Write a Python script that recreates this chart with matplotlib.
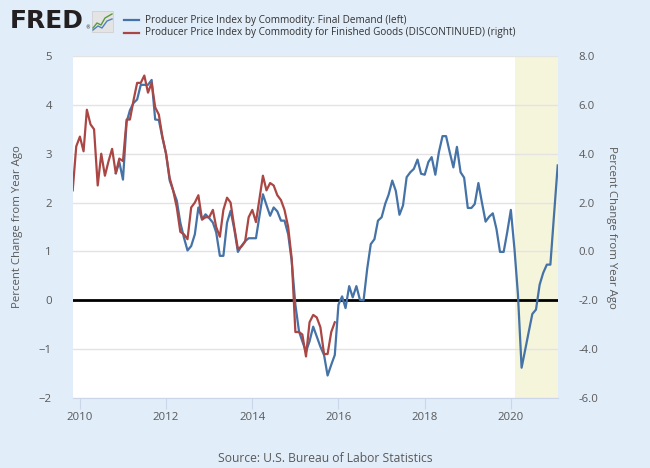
import matplotlib
matplotlib.use('Agg')
import matplotlib.pyplot as plt
import matplotlib.dates as mdates
from matplotlib import font_manager
from matplotlib.lines import Line2D
from matplotlib.patches import Rectangle
from matplotlib.ticker import FormatStrFormatter
import pandas as pd

# ---------------- data ----------------
final_demand_start = '2010-11-01'
final_demand = [
    2.60, 2.83,                                                       # 2010 Nov-Dec
    2.47, 3.65, 3.89, 4.04, 4.11, 4.41, 4.41, 4.41, 4.51, 3.70, 3.69, 3.33,   # 2011
    3.00, 2.45, 2.25, 2.04, 1.59, 1.28, 1.02, 1.11, 1.35, 1.90, 1.66, 1.76,   # 2012
    1.68, 1.59, 1.39, 0.91, 0.91, 1.59, 1.83, 1.46, 0.99, 1.11, 1.21, 1.27,   # 2013
    1.27, 1.27, 1.70, 2.17, 1.95, 1.73, 1.90, 1.82, 1.63, 1.63, 1.35, 0.80,   # 2014
    -0.09, -0.64, -0.84, -1.05, -0.84, -0.54, -0.74, -0.95, -1.12, -1.54, -1.32, -1.12,  # 2015
    -0.09, 0.08, -0.16, 0.29, 0.06, 0.29, 0.01, 0.00, 0.65, 1.15, 1.25, 1.63,  # 2016
    1.70, 1.98, 2.16, 2.45, 2.24, 1.75, 1.94, 2.52, 2.62, 2.69, 2.88, 2.59,   # 2017
    2.57, 2.83, 2.93, 2.57, 3.03, 3.36, 3.36, 3.03, 2.72, 3.14, 2.62, 2.51,   # 2018
    1.89, 1.89, 1.97, 2.40, 2.00, 1.61, 1.71, 1.78, 1.46, 0.99, 0.99, 1.39,   # 2019
    1.85, 1.04, 0.12, -1.38, -1.02, -0.64, -0.28, -0.19, 0.32, 0.56, 0.73, 0.73,  # 2020
    1.75, 2.76,                                                       # 2021 Jan-Feb
]

finished_goods_start = '2009-11-01'
finished_goods = [
    2.5, 4.3,                                                         # 2009 Nov-Dec
    4.7, 4.1, 5.8, 5.2, 5.0, 2.7, 4.0, 3.1, 3.7, 4.2, 3.2, 3.8,       # 2010
    3.7, 5.4, 5.4, 6.2, 6.9, 6.9, 7.2, 6.5, 6.9, 5.9, 5.6, 4.7,       # 2011
    4.0, 3.0, 2.5, 1.8, 0.8, 0.7, 0.5, 1.8, 2.0, 2.3, 1.3, 1.4,       # 2012
    1.4, 1.7, 1.0, 0.6, 1.7, 2.2, 2.0, 1.0, 0.1, 0.2, 0.4, 1.4,       # 2013
    1.7, 1.2, 2.1, 3.1, 2.5, 2.8, 2.7, 2.3, 2.1, 1.7, 1.0, -0.3,      # 2014
    -3.3, -3.3, -3.4, -4.3, -2.9, -2.6, -2.7, -3.1, -4.2, -4.2, -3.3, -2.9,  # 2015
]

recession_start = '2020-02-01'
x_start, x_end = '2009-11-01', '2021-02-01'
left_ticks = [-2, -1, 0, 1, 2, 3, 4, 5]
right_ticks = [-6, -4, -2, 0, 2, 4, 6, 8]

label_fd = 'Producer Price Index by Commodity: Final Demand (left)'
label_fg = 'Producer Price Index by Commodity for Finished Goods (DISCONTINUED) (right)'
y_title = 'Percent Change from Year Ago'
source = 'Source: U.S. Bureau of Labor Statistics'

# ---------------- fonts ----------------
def avail(name):
    try:
        font_manager.findfont(font_manager.FontProperties(family=name),
                              fallback_to_default=False)
        return True
    except Exception:
        return False


MAIN = 'Open Sans' if avail('Open Sans') else 'DejaVu Sans'
plt.rcParams['font.family'] = [MAIN, 'DejaVu Sans']

# ---------------- figure ----------------
W, H = 650, 468
BG = '#e1edf9'
TXT = '#595959'
BLUE = '#4572a7'
RED = '#aa4643'

fig = plt.figure(figsize=(W / 100, H / 100), dpi=100)
fig.patch.set_facecolor(BG)

L, R, T, B = 72.7, 557.7, 56, 398
ax = fig.add_axes([L / W, 1 - B / H, (R - L) / W, (B - T) / H])
ax.set_facecolor('white')

fd_dates = pd.date_range(final_demand_start, periods=len(final_demand), freq='MS')
fg_dates = pd.date_range(finished_goods_start, periods=len(finished_goods), freq='MS')

ax.set_xlim(pd.Timestamp(x_start), pd.Timestamp(x_end))
ax.set_ylim(left_ticks[0], left_ticks[-1])
ax.set_yticks(left_ticks)
ax.yaxis.grid(True, color='#e3e3e3', lw=1)
ax.set_axisbelow(True)

ax.axvspan(pd.Timestamp(recession_start), pd.Timestamp(x_end),
           color='#f5f5dc', zorder=0, lw=0)
ax.axhline(0, color='black', lw=2, zorder=1)
ax.plot(fd_dates, final_demand, color=BLUE, lw=1.6, zorder=3,
        solid_joinstyle='round')

ax2 = ax.twinx()
ax2.set_ylim(right_ticks[0], right_ticks[-1])
ax2.set_yticks(right_ticks)
ax2.yaxis.set_major_formatter(FormatStrFormatter('%.1f'))
ax2.plot(fg_dates, finished_goods, color=RED, lw=1.6, zorder=3,
         solid_joinstyle='round')
ax2.patch.set_visible(False)

for a in (ax, ax2):
    for s in ('top', 'left', 'right'):
        a.spines[s].set_visible(False)
    a.spines['bottom'].set_color('#ccd6eb')
    a.tick_params(axis='y', length=0, labelsize=8.2, labelcolor=TXT)

ax2.spines['bottom'].set_visible(False)
ax.tick_params(axis='y', pad=15)
ax2.tick_params(axis='y', pad=15)

ax.xaxis.set_major_locator(mdates.YearLocator(2))
ax.xaxis.set_major_formatter(mdates.DateFormatter('%Y'))
ax.tick_params(axis='x', length=8, color='#ccd6eb', labelsize=8.2,
               labelcolor=TXT, pad=2)

ax.set_ylabel(y_title, fontsize=8.2, color=TXT)
ax2.set_ylabel(y_title, fontsize=8.2, color=TXT, rotation=270)
ax.yaxis.set_label_coords((23 - L) / (R - L), 0.5)
ax2.yaxis.set_label_coords((617 - L) / (R - L), 0.5)

# ---------------- header: logo & legend ----------------
def fx(px):
    return px / W


def fy(py):
    return 1 - py / H


renderer = fig.canvas.get_renderer()


def fit_width(text_obj, target_px):
    bb = text_obj.get_window_extent(renderer=renderer)
    if bb.width > 0:
        text_obj.set_fontsize(text_obj.get_fontsize() * target_px / bb.width)


logo = fig.text(fx(10), fy(21.5), 'FRED', color='#231f20', va='center', ha='left',
                family='DejaVu Sans', fontweight='bold', fontsize=18)
fit_width(logo, 74)
fig.text(fx(85), fy(28), '\u00ae', color='#231f20', va='center', ha='left',
         family='DejaVu Sans', fontsize=3.5)

fig.patches.append(Rectangle((fx(92), fy(32)), fx(21), 21 / H,
                             transform=fig.transFigure, facecolor='#e4e4e4',
                             edgecolor='#d0d0d0', lw=0.6))
fig.lines.append(Line2D([fx(93), fx(97), fx(101), fx(105), fx(112)],
                        [fy(28), fy(23), fy(25), fy(18), fy(14)],
                        transform=fig.transFigure, color='#5a9a3c', lw=1))
fig.lines.append(Line2D([fx(93), fx(98), fx(102), fx(107), fx(112)],
                        [fy(30), fy(26), fy(28), fy(21), fy(19)],
                        transform=fig.transFigure, color='#4f81bd', lw=1))

leg_texts = []
for yy, col, lab in ((20, BLUE, label_fd), (33, RED, label_fg)):
    fig.lines.append(Line2D([fx(124), fx(139)], [fy(yy), fy(yy)],
                            transform=fig.transFigure, color=col, lw=1.6))
    t = fig.text(fx(145), fy(yy), lab, color='#333333', va='center', ha='left',
                 fontsize=7.3)
    leg_texts.append(t)

# match the reference width of the longer legend line
fit_width(leg_texts[1], 372)
leg_texts[0].set_fontsize(leg_texts[1].get_fontsize())

fig.text(0.5, fy(458), source, fontsize=8.7, color=TXT, ha='center', va='center')

fig.savefig('out.png', dpi=100, facecolor=BG)
